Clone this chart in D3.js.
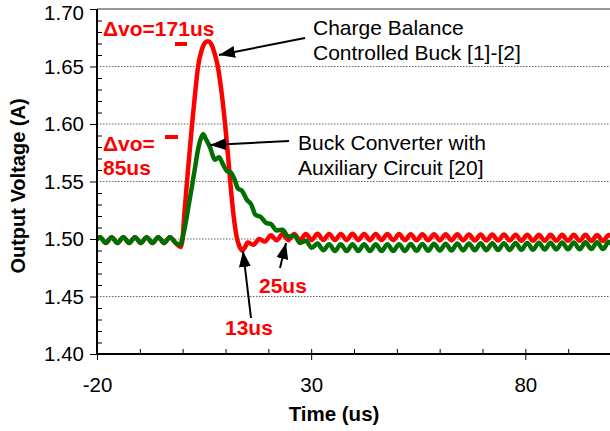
<!DOCTYPE html>
<html><head><meta charset="utf-8">
<script src="https://cdn.jsdelivr.net/npm/d3@7"></script>
<style>
html,body{margin:0;padding:0;background:#fff;}
svg{display:block;font-family:"Liberation Sans",Arial,sans-serif;}
</style></head>
<body><svg id="chart" width="610" height="431"></svg>
<script>
// ---- data ----
const yTicks = [1.40, 1.45, 1.50, 1.55, 1.60, 1.65, 1.70];
const yMinor = [1.41,1.42,1.43,1.44,1.46,1.47,1.48,1.49,1.51,1.52,1.53,1.54,1.56,1.57,1.58,1.59,1.61,1.62,1.63,1.64,1.66,1.67,1.68,1.69];
const xTicks = [-20, 30, 80];
const xMinor = [-10, 0, 10, 20, 40, 50, 60, 70, 90, 100];

// steady-state before the load step (both converters)
const preTime = [-20, -19.3, -17.94, -16.58, -15.22, -13.86, -12.5, -11.14, -9.78, -8.42, -7.06, -5.7, -4.34, -2.98, -1.62, -0.5];
const preVolt = [1.4995, 1.5016, 1.4965, 1.5016, 1.4965, 1.5016, 1.4965, 1.5016, 1.4965, 1.5016, 1.4965, 1.5016, 1.4965, 1.5016, 1.4965];

// charge balance controlled buck transient
const redTransTime = [-0.5, -0.1, 0.4, 1.2, 2.2, 3.0, 3.6, 4.5, 5.3, 5.9, 6.6, 7.4, 8.2, 9.1, 9.9, 10.6, 11.2, 11.9, 12.6, 13.2, 13.9, 14.5];
const redTransVolt = [1.4930, 1.498, 1.522, 1.558, 1.600, 1.630, 1.650, 1.665, 1.671, 1.672, 1.670, 1.662, 1.650, 1.627, 1.600, 1.572, 1.546, 1.520, 1.502, 1.494, 1.4900, 1.4925];

// buck converter with auxiliary circuit transient
const greenTransTime = [-0.5, -0.1, 0.6, 1.3, 2.0, 2.8, 3.6, 4.3, 4.8, 5.4, 6.37, 7.54, 8.47, 9.4, 10.34, 11.2, 12.1, 12.9, 13.84, 15.0, 16.0, 17.0, 18.3, 19.5];
const greenTransVolt = [1.4950, 1.500, 1.512, 1.527, 1.542, 1.560, 1.578, 1.588, 1.591, 1.587, 1.580, 1.569, 1.571, 1.565, 1.559, 1.558, 1.552, 1.544, 1.542, 1.534, 1.530, 1.521, 1.519, 1.514];

// sampled ripple after the transient
const postTime = [15.16, 16.52, 17.88, 19.24, 20.60, 21.96, 23.32, 24.68, 26.04, 27.40, 28.76, 30.12, 31.48, 32.84, 34.20, 35.56, 36.92, 38.28, 39.64, 41.00, 42.36, 43.72, 45.08, 46.44, 47.80, 49.16, 50.52, 51.88, 53.24, 54.60, 55.96, 57.32, 58.68, 60.04, 61.40, 62.76, 64.12, 65.48, 66.84, 68.20, 69.56, 70.92, 72.28, 73.64, 75.00, 76.36, 77.72, 79.08, 80.44, 81.80, 83.16, 84.52, 85.88, 87.24, 88.60, 89.96, 91.32, 92.68, 94.04, 95.40, 96.76, 98.12, 99.48, 100.84];
const redPostVolt = [1.4970, 1.4950, 1.5000, 1.4978, 1.5032, 1.4989, 1.5043, 1.4990, 1.5044, 1.4991, 1.5044, 1.4991, 1.5045, 1.4991, 1.5044, 1.4992, 1.5044, 1.4991, 1.5045, 1.4991, 1.5044, 1.4990, 1.5044, 1.4991, 1.5043, 1.4990, 1.5043, 1.4990, 1.5042, 1.4989, 1.5042, 1.4989, 1.5042, 1.4988, 1.5041, 1.4988, 1.5041, 1.4988, 1.5040, 1.4987, 1.5040, 1.4987, 1.5039, 1.4986, 1.5039, 1.4986, 1.5038, 1.4985, 1.5038, 1.4985, 1.5037, 1.4985, 1.5037, 1.4984, 1.5036, 1.4984, 1.5036, 1.4983, 1.5036, 1.4983, 1.5035, 1.4983, 1.5035, 1.4982];
const greenPostVolt = [1.5130, 1.5075, 1.5080, 1.5020, 1.5030, 1.4965, 1.4985, 1.4923, 1.4961, 1.4903, 1.4955, 1.4896, 1.4954, 1.4895, 1.4954, 1.4895, 1.4954, 1.4895, 1.4954, 1.4895, 1.4955, 1.4896, 1.4955, 1.4896, 1.4956, 1.4897, 1.4957, 1.4898, 1.4958, 1.4899, 1.4959, 1.4900, 1.4960, 1.4901, 1.4961, 1.4902, 1.4962, 1.4903, 1.4963, 1.4904, 1.4964, 1.4905, 1.4965, 1.4906, 1.4966, 1.4907, 1.4967, 1.4908, 1.4968, 1.4909, 1.4969, 1.4910, 1.4970, 1.4911, 1.4971, 1.4912, 1.4972, 1.4913, 1.4973, 1.4914];

// ---- build series ----
const redTime = preTime.slice(0, -1).concat(redTransTime, postTime);
const redVolt = preVolt.concat(redTransVolt, redPostVolt);
const greenTime = preTime.slice(0, -1).concat(greenTransTime, postTime.slice(4));
const greenVolt = preVolt.concat(greenTransVolt, greenPostVolt);
const redData = redTime.map((t, i) => [t, redVolt[i]]);
const greenData = greenTime.map((t, i) => [t, greenVolt[i]]);

// ---- layout ----
const svg = d3.select("#chart");
const L = 97, R = 611, T = 9, B = 354;
const x = d3.scaleLinear().domain([-20, 100]).range([L, R]);
const y = d3.scaleLinear().domain([1.40, 1.70]).range([B, T]);

svg.append("defs").append("clipPath").attr("id", "clip")
  .append("rect").attr("x", L).attr("y", T - 5).attr("width", R - L).attr("height", B - T + 10);

// grid lines
svg.append("g").selectAll("line").data(yTicks.filter(v => v > 1.401 && v < 1.699)).join("line")
  .attr("x1", L).attr("x2", R).attr("y1", d => y(d)).attr("y2", d => y(d))
  .attr("stroke", "#666").attr("stroke-width", 1).attr("stroke-dasharray", "1.5,1.5");

// top border
svg.append("line").attr("x1", L).attr("x2", 610).attr("y1", T).attr("y2", T)
  .attr("stroke", "#999").attr("stroke-width", 2);

// curves
const line = d3.line().x(d => x(d[0])).y(d => y(d[1])).curve(d3.curveMonotoneX);
const gLines = svg.append("g").attr("clip-path", "url(#clip)");
gLines.append("path").datum(redData).attr("d", line).attr("fill", "none")
  .attr("stroke", "#ff0000").attr("stroke-width", 4.5).attr("stroke-linejoin", "round");
gLines.append("path").datum(greenData).attr("d", line).attr("fill", "none")
  .attr("stroke", "#006e00").attr("stroke-width", 4.5).attr("stroke-linejoin", "round");

// axes
const fontSize = 20.5;
const yAxisG = svg.append("g").attr("transform", `translate(${L},0)`)
  .call(d3.axisLeft(y).tickValues(yTicks).tickSize(7).tickPadding(6).tickFormat(d3.format(".2f")));
svg.append("g").attr("transform", `translate(${L},0)`)
  .call(d3.axisRight(y).tickValues(yMinor).tickSize(5).tickFormat(""));
svg.append("g").attr("transform", `translate(0,${B})`)
  .call(d3.axisBottom(x).tickValues(xTicks).tickSize(6).tickPadding(17).tickFormat(d => String(d)));
svg.append("g").attr("transform", `translate(0,${B})`)
  .call(d3.axisTop(x).tickValues(xTicks.concat(xMinor)).tickSize(5).tickFormat(""));
svg.selectAll(".domain").remove();
svg.selectAll(".tick line").attr("stroke", "#000").attr("stroke-width", 1);
svg.selectAll(".tick text").attr("font-size", fontSize).attr("font-family", "Liberation Sans, Arial, sans-serif").attr("fill", "#000");
// keep the top label inside the picture
yAxisG.selectAll(".tick text").filter(d => d > 1.699).attr("y", 4);
svg.append("line").attr("x1", L).attr("x2", L).attr("y1", T).attr("y2", B + 1).attr("stroke", "#000").attr("stroke-width", 2);
svg.append("line").attr("x1", L - 1).attr("x2", 610).attr("y1", B).attr("y2", B).attr("stroke", "#000").attr("stroke-width", 2);

// axis titles
svg.append("text").attr("transform", `translate(25,186) rotate(-90)`)
  .attr("text-anchor", "middle").attr("font-size", 20).attr("font-weight", "bold").text("Output Voltage (A)");
svg.append("text").attr("x", 334).attr("y", 421).attr("text-anchor", "middle")
  .attr("font-size", 20.5).attr("font-weight", "bold").text("Time (us)");

// annotations
const red = "#ff0000";
function redText(tx, ty, s) {
  svg.append("text").attr("x", tx).attr("y", ty).attr("fill", red).attr("font-size", 21).attr("font-weight", "bold").text(s);
}
redText(103, 36, "Δvo=171us");
redText(103, 151, "Δvo=");
redText(103, 175, "85us");
redText(225, 335, "13us");
redText(259, 293, "25us");
svg.append("rect").attr("x", 175).attr("y", 42).attr("width", 12).attr("height", 4).attr("fill", red);
svg.append("rect").attr("x", 165).attr("y", 135).attr("width", 13).attr("height", 4).attr("fill", red);

function blackText(tx, ty, s) {
  svg.append("text").attr("x", tx).attr("y", ty).attr("fill", "#000").attr("font-size", 21).text(s);
}
blackText(313, 35, "Charge Balance");
blackText(313, 60, "Controlled Buck [1]-[2]");
blackText(298, 150, "Buck Converter with");
blackText(298, 175, "Auxiliary Circuit [20]");

svg.select("defs").append("marker").attr("id", "arr").attr("markerUnits", "userSpaceOnUse")
  .attr("viewBox", "0 0 16 12").attr("refX", 16).attr("refY", 6)
  .attr("markerWidth", 16).attr("markerHeight", 12).attr("orient", "auto")
  .append("path").attr("d", "M0,0 L16,6 L0,12 Z").attr("fill", "#000");
function arrow(x1, y1, x2, y2) {
  svg.append("line").attr("x1", x1).attr("y1", y1).attr("x2", x2).attr("y2", y2)
    .attr("stroke", "#000").attr("stroke-width", 2).attr("marker-end", "url(#arr)");
}
arrow(305, 38, 219, 55);
arrow(289, 141, 210, 145);
arrow(251, 318, 243, 251);
arrow(280, 268, 286, 243);
</script></body></html>
